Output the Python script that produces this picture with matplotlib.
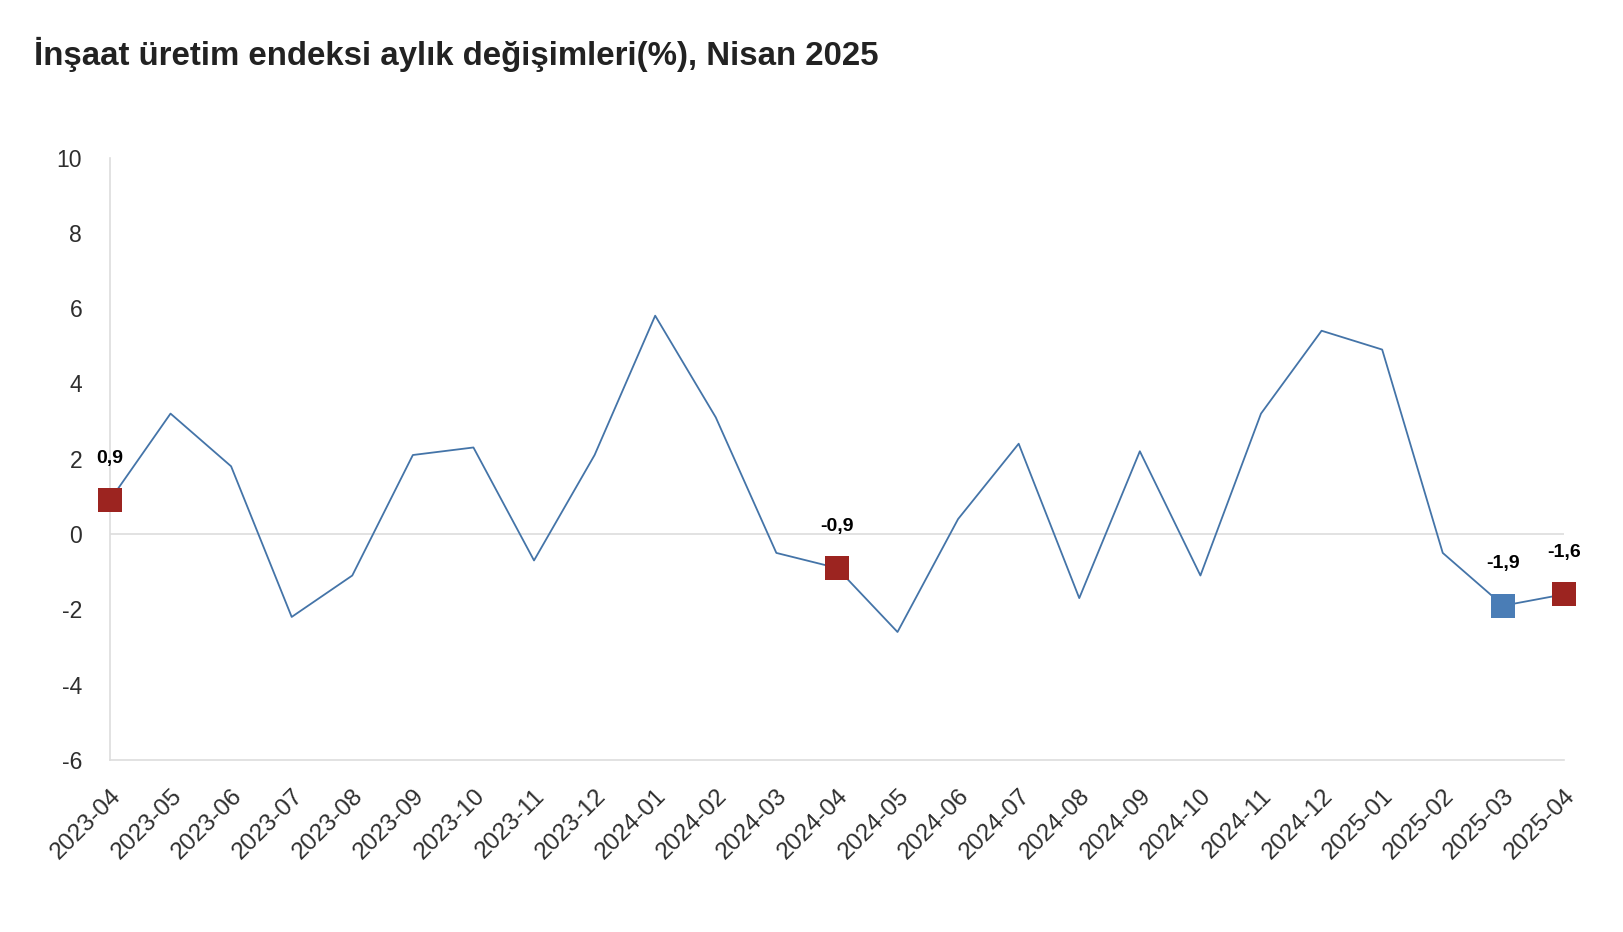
import matplotlib.pyplot as plt

plt.rcParams['font.family'] = ['Liberation Sans', 'DejaVu Sans']
plt.rcParams['axes.unicode_minus'] = False

# Veriler
aylar = ["2023-04", "2023-05", "2023-06", "2023-07", "2023-08", "2023-09",
         "2023-10", "2023-11", "2023-12", "2024-01", "2024-02", "2024-03",
         "2024-04", "2024-05", "2024-06", "2024-07", "2024-08", "2024-09",
         "2024-10", "2024-11", "2024-12", "2025-01", "2025-02", "2025-03",
         "2025-04"]
degisim = [0.9, 3.2, 1.8, -2.2, -1.1, 2.1, 2.3, -0.7, 2.1, 5.8, 3.1, -0.5,
           -0.9, -2.6, 0.4, 2.4, -1.7, 2.2, -1.1, 3.2, 5.4, 4.9, -0.5, -1.9,
           -1.6]
# vurgulanan noktalar
kirmizi_idx = [0, 12, 24]
mavi_idx = [23]
y_ticks = [-6, -4, -2, 0, 2, 4, 6, 8, 10]

line_c = "#4474a8"
red_c = "#9c2420"
blue_c = "#4a7db6"

fig = plt.figure(figsize=(16.24, 9.32), dpi=100)
ax = fig.add_axes([0.0677, 0.1845, 0.8953, 0.6465])

x = list(range(len(aylar)))
ax.plot(x, degisim, color=line_c, lw=1.3, zorder=2)

ax.scatter([x[i] for i in kirmizi_idx], [degisim[i] for i in kirmizi_idx],
           marker='s', s=290, color=red_c, zorder=3, linewidths=0, clip_on=False)
ax.scatter([x[i] for i in mavi_idx], [degisim[i] for i in mavi_idx],
           marker='s', s=290, color=blue_c, zorder=3, linewidths=0, clip_on=False)

for i in kirmizi_idx + mavi_idx:
    txt = f"{degisim[i]:.1f}".replace('.', ',')
    ax.annotate(txt, (x[i], degisim[i]), xytext=(0, 24), textcoords='offset points',
                ha='center', va='bottom', fontsize=14, fontweight='bold', color='black')

ax.axhline(0, color='#dddddd', lw=1.2, zorder=1)
ax.set_xlim(0, len(aylar) - 1)
ax.set_ylim(-6, 10)
ax.set_yticks(y_ticks)
ax.set_xticks(x)
ax.set_xticklabels(aylar, rotation=45, ha='right', va='top', rotation_mode='anchor')

for s in ['top', 'right']:
    ax.spines[s].set_visible(False)
for s in ['left', 'bottom']:
    ax.spines[s].set_color('#dddddd')
    ax.spines[s].set_linewidth(1.2)

ax.tick_params(axis='y', length=0, pad=20, labelsize=16.5, labelcolor='#2e2e2e')
ax.tick_params(axis='x', length=0, pad=18, labelsize=17.5, labelcolor='#2e2e2e')

fig.text(0.021, 0.942, "İnşaat üretim endeksi aylık değişimleri(%), Nisan 2025",
         fontsize=23.8, fontweight='bold', color='#222222', ha='left', va='center')

fig.savefig("out.png", dpi=100, facecolor='white')
